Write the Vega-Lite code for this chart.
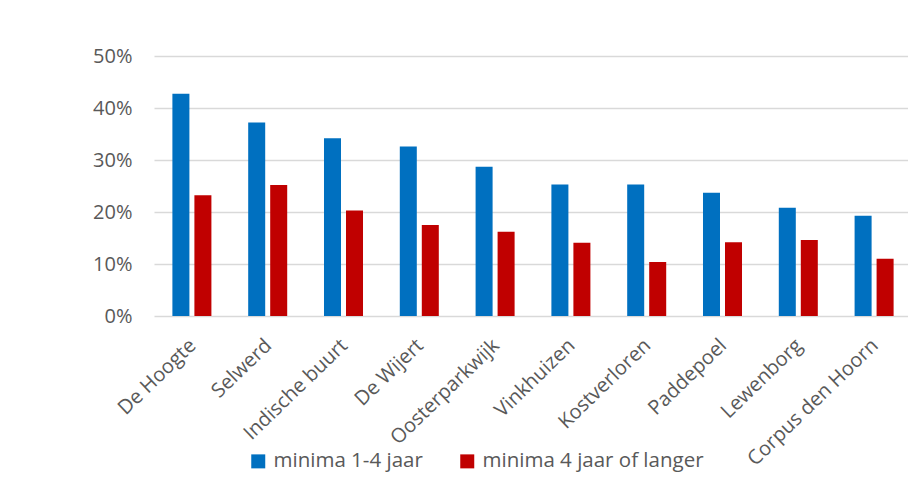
{
  "$schema": "https://vega.github.io/schema/vega-lite/v6.json",
  "autosize": {"type": "none"},
  "padding": {"left": 154, "top": 56, "right": 0, "bottom": 175},
  "width": 758,
  "height": 260,
  "background": "white",
  "config": {
    "view": {"stroke": null},
    "font": "Open Sans",
    "axis": {"labelFont": "Open Sans", "labelColor": "#595959", "labelFontSize": 20},
    "legend": {"labelFont": "Open Sans", "labelColor": "#595959", "labelFontSize": 20.5}
  },
  "data": {
    "values": [
      {"wijk": "De Hoogte", "reeks": "minima 1-4 jaar", "waarde": 0.4275},
      {"wijk": "De Hoogte", "reeks": "minima 4 jaar of langer", "waarde": 0.232},
      {"wijk": "Selwerd", "reeks": "minima 1-4 jaar", "waarde": 0.372},
      {"wijk": "Selwerd", "reeks": "minima 4 jaar of langer", "waarde": 0.252},
      {"wijk": "Indische buurt", "reeks": "minima 1-4 jaar", "waarde": 0.342},
      {"wijk": "Indische buurt", "reeks": "minima 4 jaar of langer", "waarde": 0.203},
      {"wijk": "De Wijert", "reeks": "minima 1-4 jaar", "waarde": 0.326},
      {"wijk": "De Wijert", "reeks": "minima 4 jaar of langer", "waarde": 0.175},
      {"wijk": "Oosterparkwijk", "reeks": "minima 1-4 jaar", "waarde": 0.287},
      {"wijk": "Oosterparkwijk", "reeks": "minima 4 jaar of langer", "waarde": 0.162},
      {"wijk": "Vinkhuizen", "reeks": "minima 1-4 jaar", "waarde": 0.253},
      {"wijk": "Vinkhuizen", "reeks": "minima 4 jaar of langer", "waarde": 0.141},
      {"wijk": "Kostverloren", "reeks": "minima 1-4 jaar", "waarde": 0.253},
      {"wijk": "Kostverloren", "reeks": "minima 4 jaar of langer", "waarde": 0.104},
      {"wijk": "Paddepoel", "reeks": "minima 1-4 jaar", "waarde": 0.237},
      {"wijk": "Paddepoel", "reeks": "minima 4 jaar of langer", "waarde": 0.142},
      {"wijk": "Lewenborg", "reeks": "minima 1-4 jaar", "waarde": 0.208},
      {"wijk": "Lewenborg", "reeks": "minima 4 jaar of langer", "waarde": 0.146},
      {"wijk": "Corpus den Hoorn", "reeks": "minima 1-4 jaar", "waarde": 0.193},
      {"wijk": "Corpus den Hoorn", "reeks": "minima 4 jaar of langer", "waarde": 0.110}
    ]
  },
  "mark": {"type": "bar"},
  "encoding": {
    "x": {
      "field": "wijk",
      "type": "nominal",
      "sort": null,
      "scale": {"paddingInner": 0, "paddingOuter": 0},
      "axis": {
        "title": null,
        "labelAngle": -44,
        "ticks": false,
        "domain": false,
        "labelPadding": 19,
        "labelOffset": -6,
        "labelLimit": 300
      }
    },
    "xOffset": {
      "field": "reeks",
      "type": "nominal",
      "scale": {"domain": ["minima 1-4 jaar", "minima 4 jaar of langer"], "paddingInner": 0.227, "paddingOuter": 0.836}
    },
    "y": {
      "field": "waarde",
      "type": "quantitative",
      "scale": {"domain": [0, 0.5]},
      "axis": {
        "title": null,
        "format": ".0%",
        "values": [0, 0.1, 0.2, 0.3, 0.4, 0.5],
        "ticks": false,
        "domain": false,
        "labelPadding": 22,
        "grid": true,
        "gridColor": "#d9d9d9",
        "gridWidth": 1.5
      }
    },
    "color": {
      "field": "reeks",
      "type": "nominal",
      "scale": {"domain": ["minima 1-4 jaar", "minima 4 jaar of langer"], "range": ["#0070C0", "#C00000"]},
      "legend": {
        "title": null,
        "orient": "none",
        "direction": "horizontal",
        "legendX": 94,
        "legendY": 395,
        "padding": 0,
        "symbolType": "square",
        "symbolSize": 196,
        "symbolStrokeWidth": 0,
        "labelOffset": 5,
        "columnPadding": 34,
        "labelLimit": 400
      }
    }
  }
}
